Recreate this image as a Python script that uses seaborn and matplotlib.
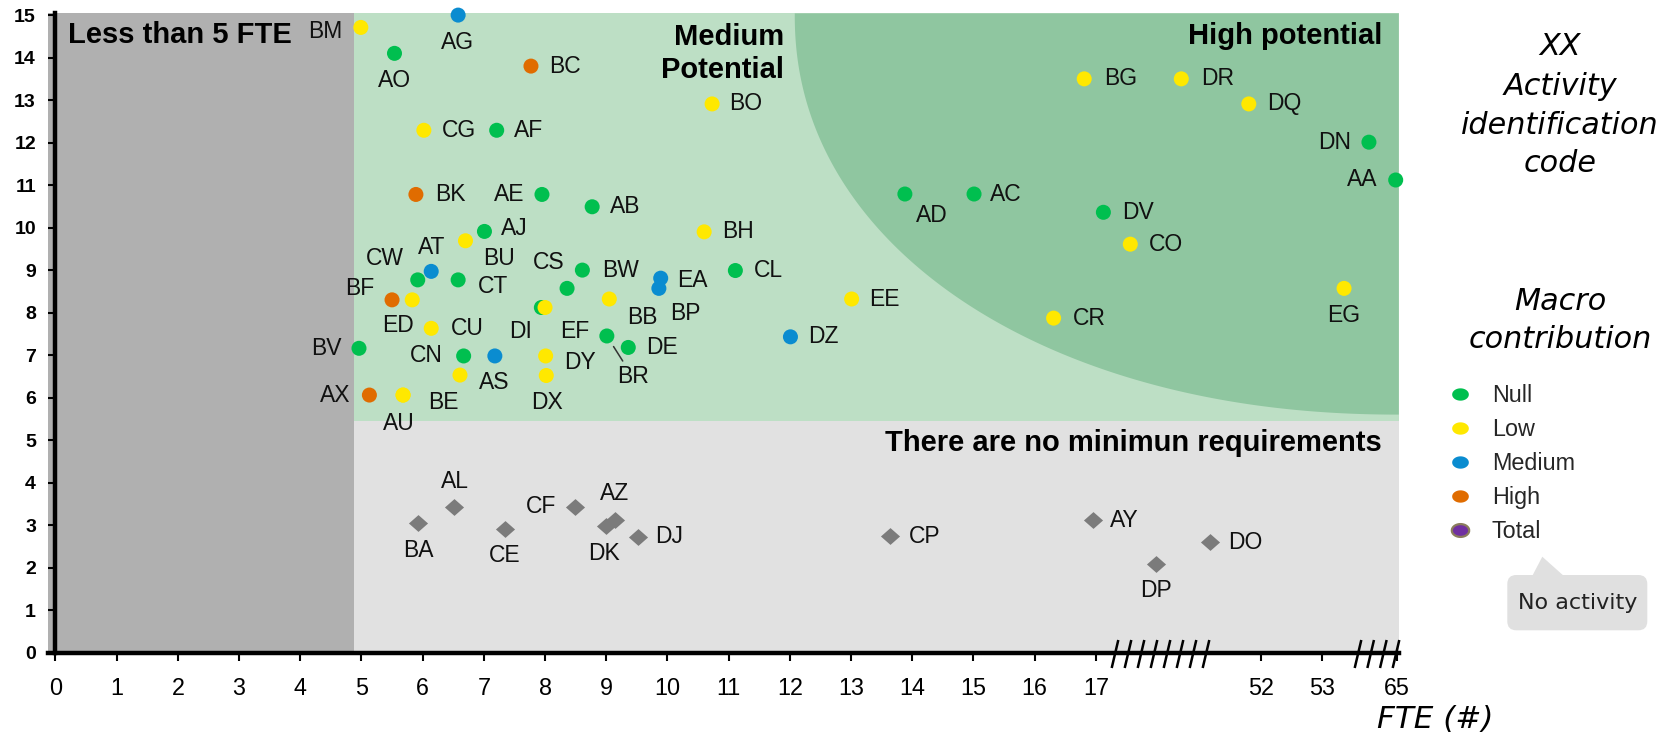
import numpy as np
import pandas as pd
import matplotlib
matplotlib.use("Agg")
import matplotlib.pyplot as plt
import seaborn as sns
from matplotlib.patches import Rectangle, FancyBboxPatch, Polygon
from matplotlib.path import Path
from matplotlib.lines import Line2D
from matplotlib.ticker import NullLocator
from matplotlib.transforms import Affine2D

# ---------------- data ----------------
# activities with a macro contribution level
act_codes = ["BM", "AG", "AO", "BC", "CG", "AF", "BO", "BK", "AE", "AB", "AJ", "BU", "AT",
             "CW", "CT", "BF", "ED", "CU", "BV", "CN", "DI", "AS", "", "EF", "CS", "BW",
             "EA", "BP", "BB", "CL", "BH", "EE", "DZ", "BR", "DE", "DY", "DX", "AD", "AC",
             "BG", "DR", "DQ", "DV", "CO", "CR", "DN", "AA", "EG", "AX", "BE", "AU"]
act_fte = [4.99, 6.58, 5.54, 7.77, 6.02, 7.21, 10.73, 5.89, 7.95, 8.77, 7.01, 6.70, 6.14,
           5.92, 6.58, 5.50, 5.83, 6.14, 4.96, 6.67, 7.18, 6.61, 7.94, 8.00, 8.36, 8.61,
           9.89, 9.86, 9.05, 11.11, 10.60, 13.01, 12.01, 9.01, 9.36, 8.01, 8.02, 13.88, 15.01,
           16.81, 35.1, 49.4, 18.6, 24.3, 16.31, 60.5, 64.8, 56.5, 5.13, 5.68, 5.68]
act_score = [14.71, 15.0, 14.10, 13.80, 12.29, 12.29, 12.91, 10.78, 10.78, 10.49, 9.91, 9.69, 8.97,
             8.77, 8.77, 8.30, 8.30, 7.63, 7.16, 6.98, 6.98, 6.53, 8.12, 8.12, 8.57, 9.00,
             8.81, 8.57, 8.32, 8.99, 9.90, 8.32, 7.43, 7.45, 7.18, 6.98, 6.52, 10.79, 10.79,
             13.50, 13.50, 12.91, 10.36, 9.61, 7.87, 12.01, 11.12, 8.57, 6.06, 6.06, 6.06]
act_level = ["Low", "Medium", "Null", "High", "Low", "Null", "Low", "High", "Null", "Null", "Null", "Low", "Medium",
             "Null", "Null", "High", "Low", "Low", "Null", "Null", "Medium", "Low", "Null", "Low", "Null", "Null",
             "Medium", "Medium", "Low", "Null", "Low", "Low", "Medium", "Null", "Null", "Low", "Low", "Null", "Null",
             "Low", "Low", "Low", "Null", "Low", "Low", "Null", "Null", "Low", "High", "Low", "Low"]

# activities shown as totals (no minimum requirements)
tot_codes = ["BA", "AL", "CE", "CF", "DK", "AZ", "DJ", "CP", "AY", "DP", "DO"]
tot_fte = [5.93, 6.52, 7.34, 8.49, 9.00, 9.15, 9.52, 13.64, 16.95, 29.7, 41.1]
tot_score = [3.05, 3.43, 2.90, 3.43, 2.99, 3.11, 2.73, 2.74, 3.11, 2.08, 2.60]

levels = ["Null", "Low", "Medium", "High", "Total"]
xtick_vals = list(range(0, 18)) + [52, 53, 65]
xtick_labels = [str(v) for v in xtick_vals]
ytick_vals = list(range(0, 16))

# ---------------- styling ----------------
level_colors = {"Null": "#00BF4F", "Low": "#FFE800", "Medium": "#0A8CD0",
                "High": "#E06C00", "Total": "#7030A0"}
# label offsets (pixels: right, down) relative to the marker
label_off = {
    "BM": (-36, 4), "AG": (-1, 27), "AO": (0, 27), "BC": (34, 0), "CG": (35, 0), "AF": (32, 0),
    "BO": (34, 0), "BK": (34, 0), "AE": (-33, 0), "AB": (33, 0), "AJ": (30, -3), "BU": (34, 18),
    "AT": (0, -24), "CW": (-33, -21), "CT": (35, 7), "BF": (-32, -11), "ED": (-14, 26),
    "CU": (36, 0), "BV": (-33, 0), "CN": (-37, 0), "DI": (26, -24), "AS": (34, 7), "EF": (30, 24),
    "CS": (-18, -26), "BW": (38, 0), "EA": (32, 2), "BP": (27, 25), "BB": (33, 18), "CL": (33, 0),
    "BH": (34, 0), "EE": (33, 0), "DZ": (33, 0), "BR": (26, 41), "DE": (34, 0), "DY": (34, 7),
    "DX": (1, 27), "AD": (27, 21), "AC": (32, 0), "BG": (36, 0), "DR": (36, 0), "DQ": (36, 0),
    "DV": (35, 0), "CO": (36, 0), "CR": (36, 0), "DN": (-34, 0), "AA": (-33, 0), "EG": (0, 27),
    "AX": (-34, 0), "BE": (40, 7), "AU": (-4, 28),
    "BA": (0, 28), "AL": (0, -25), "CE": (0, 26), "CF": (-34, 0), "AZ": (-1, -27), "DK": (-2, 28),
    "DJ": (31, 0), "CP": (34, 0), "AY": (32, 0), "DP": (0, 26), "DO": (36, 0),
}

sns.set_style("white")
plt.rcParams["font.family"] = ["Liberation Sans", "DejaVu Sans"]

# broken FTE axis: piecewise-linear function scale
FTE_ANCH = np.array([-100.0, 0.0, 17.0, 52.0, 53.0, 65.0, 200.0])
POS_ANCH = np.array([-100.0, 0.0, 17.0, 19.70, 20.70, 21.92, 21.92 + 135 * 1.22 / 12])


def fwd(x):
    return np.interp(np.asarray(x, dtype=float), FTE_ANCH, POS_ANCH)


def inv(p):
    return np.interp(np.asarray(p, dtype=float), POS_ANCH, FTE_ANCH)


W, H = 1672, 742
fig = plt.figure(figsize=(W / 100, H / 100), dpi=100)
PX = Affine2D().scale(0.01, -0.01).translate(0, H / 100) + fig.dpi_scale_trans

X_LEFT, X_RIGHT = 48.1, 1398.8
Y_ZERO, Y_TOP = 652.6, 13.4
ax = fig.add_axes([X_LEFT / W, (H - Y_ZERO) / H, (X_RIGHT - X_LEFT) / W, (Y_ZERO - Y_TOP) / H])
ax.set_xscale("function", functions=(fwd, inv))
XMIN, XMAX, YMAX = -0.12, 65.3, 15.04
ax.set_xlim(XMIN, XMAX)
ax.set_ylim(0, YMAX)
ax.patch.set_visible(False)

# background zones
GRAY_X, GREEN_Y = 4.88, 5.45
ax.add_patch(Rectangle((XMIN, 0), GRAY_X - XMIN, YMAX, color="#B0B0B0", lw=0, zorder=0))
ax.add_patch(Rectangle((GRAY_X, 0), XMAX - GRAY_X, GREEN_Y, color="#E1E1E1", lw=0, zorder=0))
ax.add_patch(Rectangle((GRAY_X, GREEN_Y), XMAX - GRAY_X, YMAX - GREEN_Y, color="#BDDFC5", lw=0, zorder=0))

# high-potential zone (super-ellipse anchored to top-right corner), in axes fraction
pos_w = fwd(XMAX) - fwd(XMIN)
ea, eb, en = 9.87 / pos_w, 9.4 / YMAX, 2.1
cy = 15.0 / YMAX
t = np.linspace(0, np.pi / 2, 300)
ex = 1 - ea * np.cos(t) ** (2 / en)
ey = cy - eb * np.sin(t) ** (2 / en)
poly = np.column_stack([np.r_[ex, 1, 1 - ea], np.r_[ey, 1, 1]])
ax.add_patch(Polygon(poly, closed=True, transform=ax.transAxes, color="#8FC6A0", lw=0, zorder=0.5))

# points
df_act = pd.DataFrame({"code": act_codes, "fte": act_fte, "score": act_score, "level": act_level})
df_tot = pd.DataFrame({"code": tot_codes, "fte": tot_fte, "score": tot_score})

sns.scatterplot(data=df_act, x="fte", y="score", hue="level", palette=level_colors,
                s=117, linewidth=0, legend=False, ax=ax, zorder=5, clip_on=False)
diamond = Path([(-1, 0), (0, -0.88), (1, 0), (0, 0.88), (-1, 0)],
               [Path.MOVETO, Path.LINETO, Path.LINETO, Path.LINETO, Path.CLOSEPOLY])
sns.scatterplot(data=df_tot, x="fte", y="score", marker=diamond, s=190, color="#7B7B7B",
                linewidth=0, legend=False, ax=ax, zorder=5)

# labels
for df in (df_act, df_tot):
    for code, fx, fy in zip(df["code"], df["fte"], df["score"]):
        if not code:
            continue
        dx, dy = label_off[code]
        kw = {}
        if code == "BR":
            kw["arrowprops"] = dict(arrowstyle="-", color="#333333", lw=1.1, shrinkA=1, shrinkB=9)
        ax.annotate(code, (fx, fy), xytext=(dx * 0.72, -dy * 0.72), textcoords="offset points",
                    ha="center", va="center", fontsize=16.5, color="#111111", zorder=6, **kw)

# axes styling
for s in ("top", "right"):
    ax.spines[s].set_visible(False)
ax.spines["left"].set_position(("data", 0))
for s in ("left", "bottom"):
    ax.spines[s].set_linewidth(3.2)
    ax.spines[s].set_color("black")
    ax.spines[s].set_zorder(7)
ax.set_xticks(xtick_vals)
ax.set_xticklabels(xtick_labels)
ax.xaxis.set_minor_locator(NullLocator())
ax.set_yticks(ytick_vals)
ax.set_yticklabels([str(v) for v in ytick_vals])
ax.tick_params(axis="x", direction="out", length=5.8, width=1.5, pad=11.5, labelsize=16.8,
               colors="black", bottom=True)
ax.tick_params(axis="y", direction="out", length=5, width=1.5, pad=9, labelsize=14,
               colors="black", left=True)
for lab in ax.get_yticklabels():
    lab.set_fontweight("bold")
ax.set_xlabel("")
ax.set_ylabel("")

# zone titles
bold = dict(fontsize=21, fontweight="bold", color="black", transform=PX, zorder=6)
ax.text(68, 35, "Less than 5 FTE", ha="left", va="center", **bold)
ax.text(784, 37, "Medium", ha="right", va="center", **bold)
ax.text(784, 70, "Potential", ha="right", va="center", **bold)
ax.text(1382, 36, "High potential", ha="right", va="center", **bold)
ax.text(1382, 443, "There are no minimun requirements", ha="right", va="center", **bold)

# axis breaks
for xs in (np.linspace(1115, 1206, 8), np.linspace(1358, 1396, 4)):
    for xb in xs:
        fig.add_artist(Line2D([xb - 3.3, xb + 3.3], [668, 640], transform=PX,
                              color="black", lw=1.8, solid_capstyle="butt"))

# right-hand texts
ital = dict(fontsize=21.8, style="italic", family="DejaVu Sans", ha="center", va="center",
            color="black", transform=PX)
for txt, yy in (("XX", 46.7), ("Activity", 86.7), ("identification", 125), ("code", 163),
                ("Macro", 301.7), ("contribution", 340)):
    fig.text(1560, yy, txt, **ital)
fig.text(1435, 719, "FTE (#)", fontsize=22.3, style="italic", family="DejaVu Sans",
         ha="center", va="center", color="black", transform=PX)

# legend
tt = np.linspace(0, 2 * np.pi, 60)
ell = Path(np.column_stack([np.cos(tt), 0.74 * np.sin(tt)]))
handles = []
for lv in levels:
    if lv == "Total":
        handles.append(Line2D([], [], ls="none", marker=ell, markersize=12.5,
                              markerfacecolor=level_colors[lv], markeredgecolor="#8B7D5C",
                              markeredgewidth=1.6))
    else:
        handles.append(Line2D([], [], ls="none", marker=ell, markersize=12,
                              markerfacecolor=level_colors[lv], markeredgewidth=0))
fig.legend(handles, levels, loc="upper left", bbox_to_anchor=(1448.3, 384), bbox_transform=PX,
           frameon=False, prop={"family": "Liberation Sans", "size": 16.8}, handlelength=1.0,
           handletextpad=0.86, labelspacing=0.47, borderpad=0, borderaxespad=0)

# "No activity" callout
fig.add_artist(Polygon([(1531.7, 577), (1565, 577), (1542.3, 556.7)], closed=True,
                       transform=PX, color="#E0E0E0", lw=0))
fig.add_artist(FancyBboxPatch((1507.3, 575), 140, 55.3, boxstyle="round,pad=0,rounding_size=9",
                              transform=PX, color="#E0E0E0", lw=0))
fig.text(1577.3, 603.3, "No activity", fontsize=16, family="DejaVu Sans", ha="center",
         va="center", color="#222222", transform=PX)

fig.savefig("out.png", dpi=100)
